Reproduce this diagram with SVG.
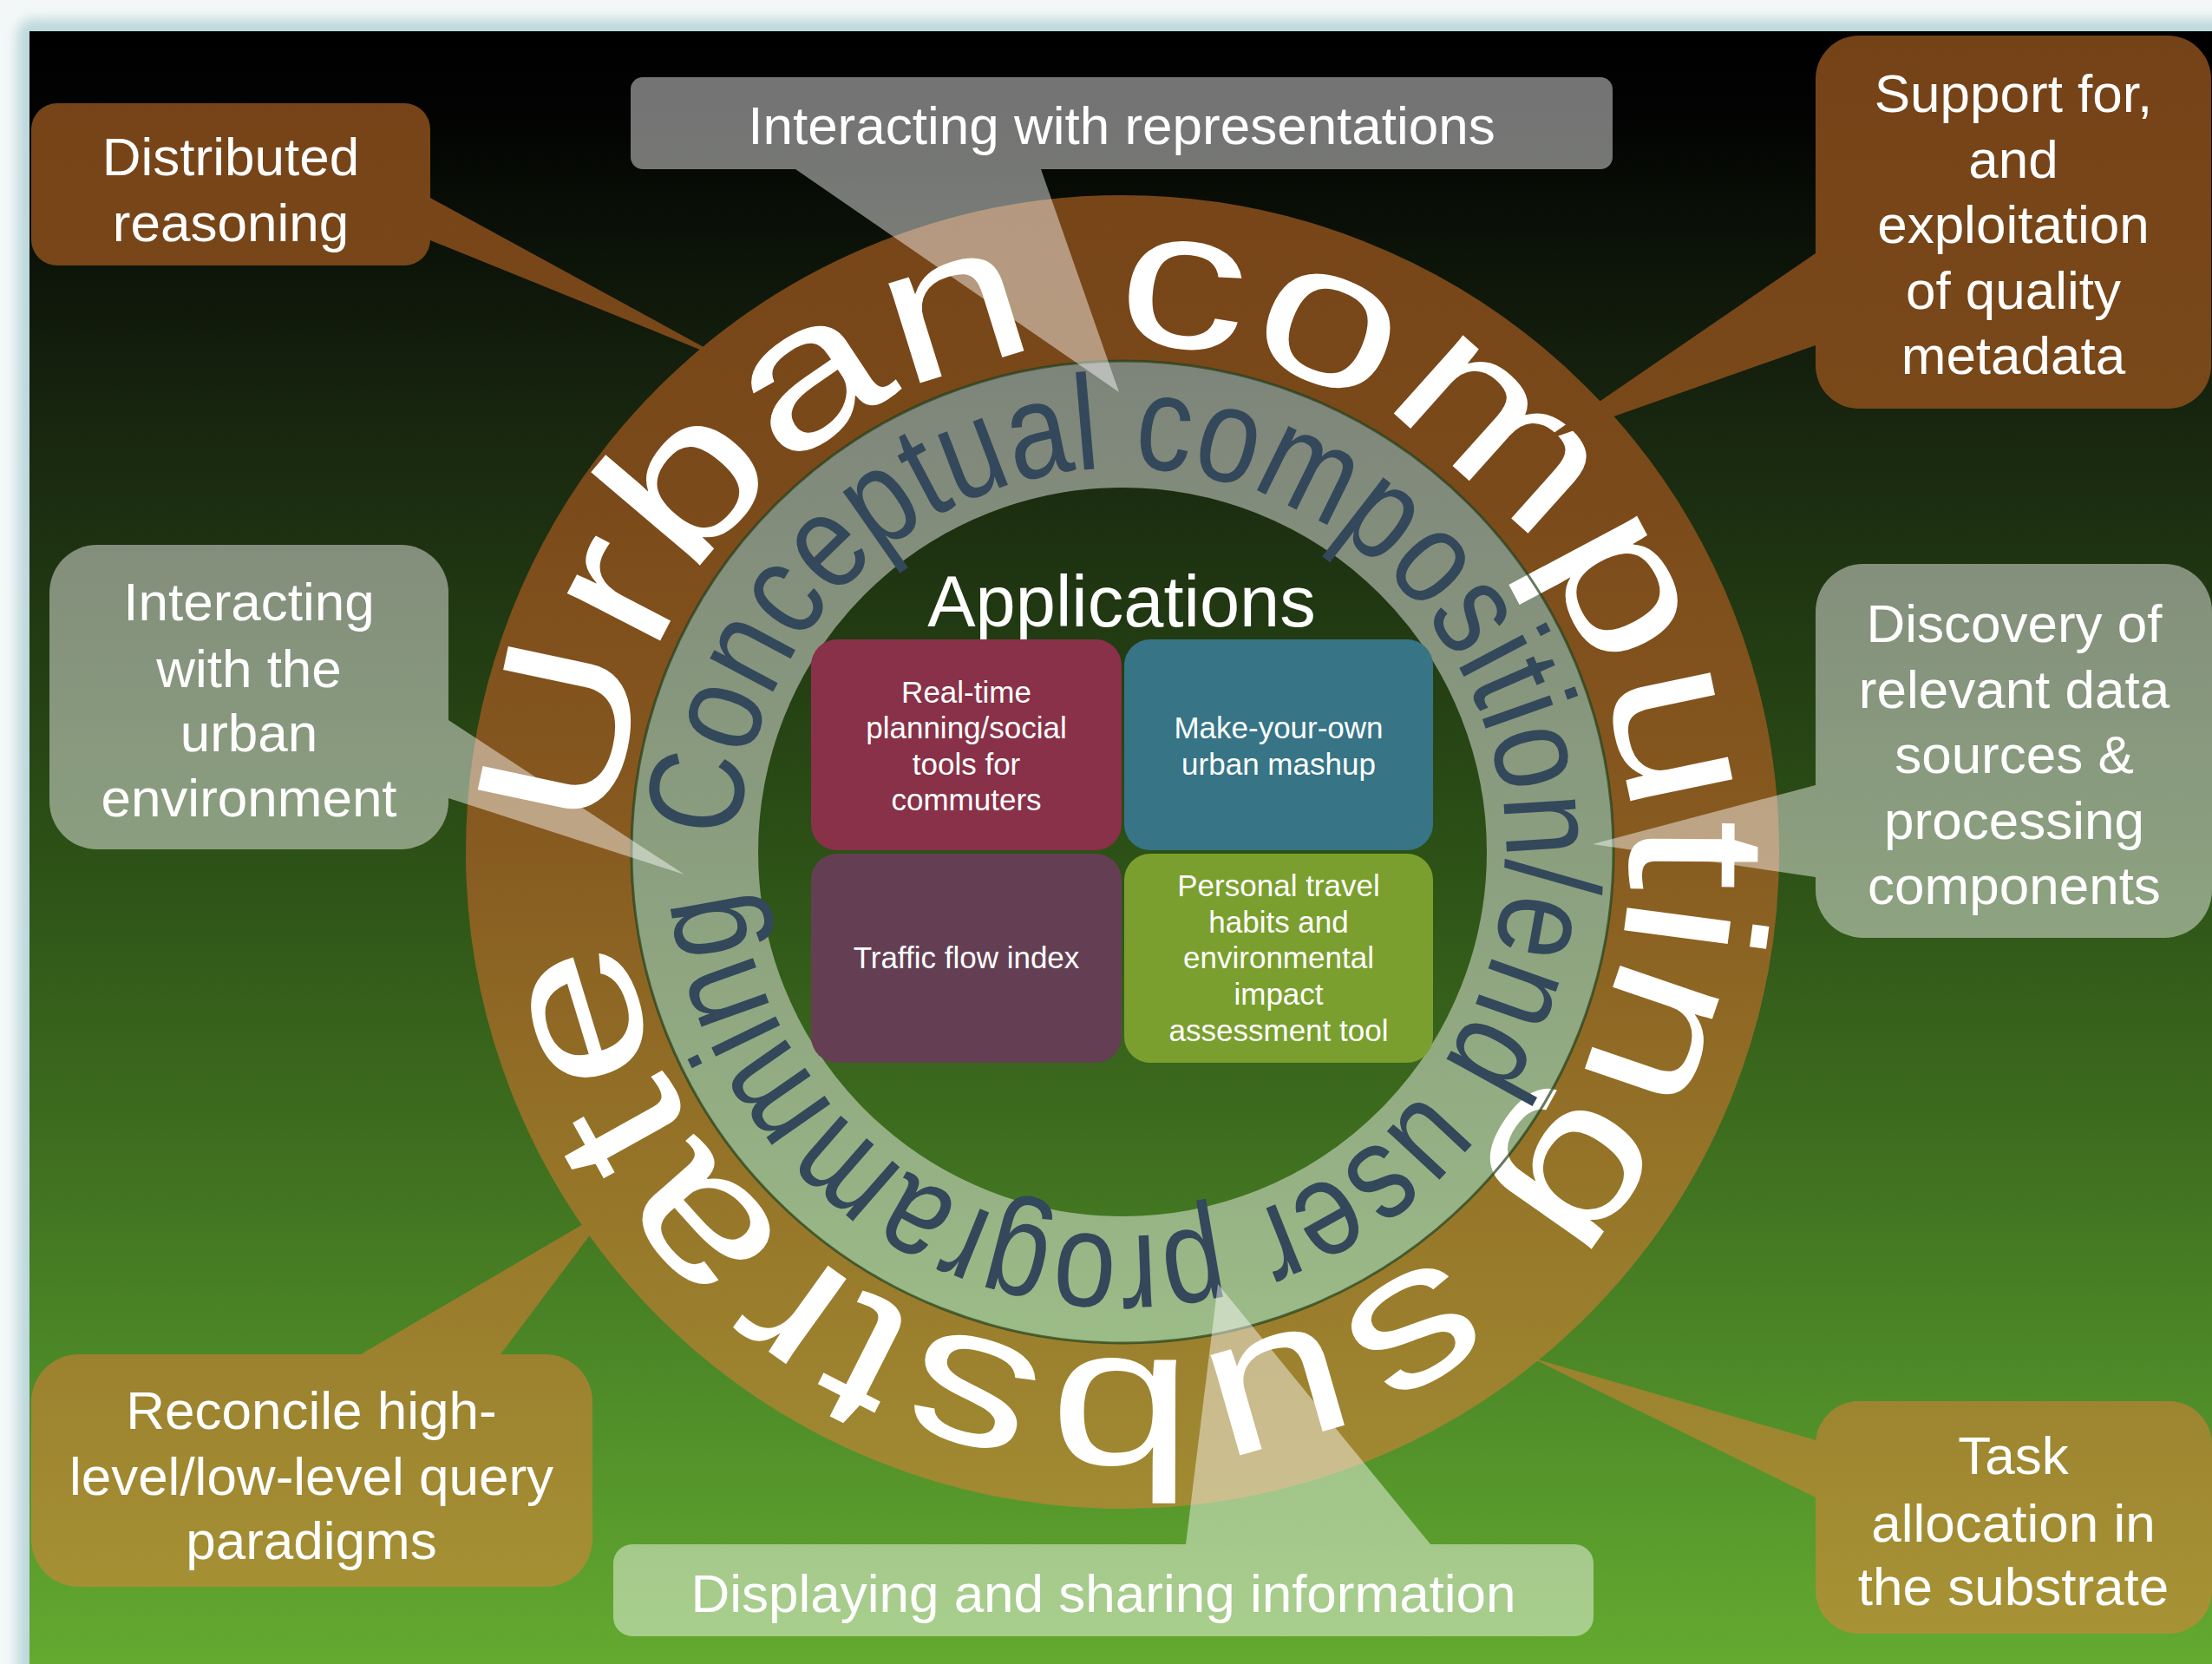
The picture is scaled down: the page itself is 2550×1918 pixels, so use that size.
<svg xmlns="http://www.w3.org/2000/svg" width="2550" height="1918" viewBox="0 0 2550 1918">
<defs>
  <linearGradient id="bg" gradientUnits="userSpaceOnUse" x1="0" y1="36" x2="0" y2="1918">
    <stop offset="0" stop-color="#000000"/>
    <stop offset="0.05" stop-color="#020302"/>
    <stop offset="0.24" stop-color="#18260f"/>
    <stop offset="0.5" stop-color="#2c5016"/>
    <stop offset="0.67" stop-color="#3d6c1e"/>
    <stop offset="0.845" stop-color="#508e29"/>
    <stop offset="1" stop-color="#64aa30"/>
  </linearGradient>
  <linearGradient id="brown" gradientUnits="userSpaceOnUse" x1="0" y1="0" x2="0" y2="1918">
    <stop offset="0" stop-color="#744217"/>
    <stop offset="0.3" stop-color="#7b4a1a"/>
    <stop offset="0.5" stop-color="#875a20"/>
    <stop offset="0.7" stop-color="#957428"/>
    <stop offset="0.85" stop-color="#9e8530"/>
    <stop offset="1" stop-color="#a89536"/>
  </linearGradient>
  <filter id="glow" x="-5%" y="-5%" width="110%" height="110%">
    <feGaussianBlur stdDeviation="7"/>
  </filter>
  <path id="outerPath" d="M709.20,966.69 A585,585 0 1 1 1878.80,997.31 A585,585 0 1 1 709.20,966.69"/>
  <path id="innerPath" d="M852.27,966.57 A442,442 0 1 1 1735.73,997.43 A442,442 0 1 1 852.27,966.57"/>
</defs>
<style>
  .ct { font-family: "Liberation Sans", Arial, sans-serif; font-size: 62px; fill: #ffffff; text-anchor: middle; }
  .at { font-family: "Liberation Sans", Arial, sans-serif; font-size: 35px; fill: #ffffff; text-anchor: middle; }
  .gray { fill: #ffffff; fill-opacity: 0.45; }
  .brown { fill: url(#brown); }
  .ringtext { font-family: "Liberation Sans", Arial, sans-serif; font-size: 228px; fill: #ffffff; }
  .innertext { font-family: "Liberation Sans", Arial, sans-serif; font-size: 156px; fill: #33485a; }
</style>

<!-- frame and background -->
<rect x="0" y="0" width="2550" height="1918" fill="#f4f7f7"/>
<rect x="20" y="22" width="2600" height="2000" rx="18" fill="#bcd8dc" filter="url(#glow)"/>
<rect x="34" y="36" width="2516" height="1882" fill="url(#bg)"/>

<!-- rings -->
<g id="ring-substrate">
  <circle cx="1294" cy="982" r="661.5" fill="none" stroke="url(#brown)" stroke-width="191"/>
  <text class="ringtext"><textPath href="#outerPath" startOffset="0" textLength="3570" lengthAdjust="spacingAndGlyphs">Urban computing substrate</textPath></text>
</g>
<g id="ring-composition">
  <circle cx="1294" cy="982" r="493" fill="none" stroke="#ffffff" stroke-opacity="0.45" stroke-width="146"/>
  <circle cx="1294" cy="982" r="566" fill="none" stroke="#24401a" stroke-opacity="0.7" stroke-width="3"/>
  <text class="innertext"><textPath href="#innerPath" startOffset="0" textLength="2721" lengthAdjust="spacingAndGlyphs">Conceptual composition/end user programming</textPath></text>
</g>

<!-- applications -->
<g id="applications">
  <text x="1293" y="722" font-family="Liberation Sans, Arial, sans-serif" font-size="83" fill="#ffffff" text-anchor="middle">Applications</text>
</g>
<g id="app-realtime">
  <rect x="935" y="737" width="358" height="243" rx="30" fill="#883148"/>
  <text class="at"><tspan x="1114" y="810">Real-time</tspan><tspan x="1114" y="851">planning/social</tspan><tspan x="1114" y="893">tools for</tspan><tspan x="1114" y="934">commuters</tspan></text>
</g>
<g id="app-mashup">
  <rect x="1296" y="737" width="356" height="243" rx="30" fill="#367486"/>
  <text class="at"><tspan x="1474" y="851">Make-your-own</tspan><tspan x="1474" y="893">urban mashup</tspan></text>
</g>
<g id="app-traffic">
  <rect x="935" y="984" width="358" height="241" rx="30" fill="#643f53"/>
  <text class="at" x="1114" y="1116">Traffic flow index</text>
</g>
<g id="app-travel">
  <rect x="1296" y="984" width="356" height="241" rx="30" fill="#7a9f2e"/>
  <text class="at"><tspan x="1474" y="1033">Personal travel</tspan><tspan x="1474" y="1075">habits and</tspan><tspan x="1474" y="1116">environmental</tspan><tspan x="1474" y="1158">impact</tspan><tspan x="1474" y="1200">assessment tool</tspan></text>
</g>

<!-- connectors (callout pointers) -->
<g id="connectors">
  <polygon class="brown" points="496,228 844,418 496,277"/>
  <polygon class="gray" points="917,195 1290,452 1200,195"/>
  <polygon class="brown" points="2093,292 1775,510 2093,398"/>
  <polygon class="gray" points="517,830 789,1008 517,920"/>
  <polygon class="gray" points="2093,905 1836,973 2093,1011"/>
  <polygon class="brown" points="416,1561 703,1393 577,1561"/>
  <polygon class="gray" points="1367,1780 1404,1480 1649,1780"/>
  <polygon class="brown" points="2093,1660 1765,1565 2093,1726"/>
</g>

<!-- callouts -->
<g id="callout-distributed">
  <rect class="brown" x="36" y="119" width="460" height="187" rx="30"/>
  <text class="ct"><tspan x="266" y="202">Distributed</tspan><tspan x="266" y="278">reasoning</tspan></text>
</g>
<g id="callout-representations">
  <rect class="gray" x="727" y="89" width="1132" height="106" rx="14"/>
  <text class="ct" x="1293" y="166">Interacting with representations</text>
</g>
<g id="callout-metadata">
  <rect class="brown" x="2093" y="41" width="456" height="430" rx="50"/>
  <text class="ct"><tspan x="2321" y="129">Support for,</tspan><tspan x="2321" y="205">and</tspan><tspan x="2321" y="280">exploitation</tspan><tspan x="2321" y="356">of quality</tspan><tspan x="2321" y="431">metadata</tspan></text>
</g>
<g id="callout-urban-environment">
  <rect class="gray" x="57" y="628" width="460" height="351" rx="55"/>
  <text class="ct"><tspan x="287" y="715">Interacting</tspan><tspan x="287" y="792">with the</tspan><tspan x="287" y="866">urban</tspan><tspan x="287" y="941">environment</tspan></text>
</g>
<g id="callout-discovery">
  <rect class="gray" x="2093" y="650" width="457" height="431" rx="55"/>
  <text class="ct"><tspan x="2322" y="740">Discovery of</tspan><tspan x="2322" y="816">relevant data</tspan><tspan x="2322" y="891">sources &amp;</tspan><tspan x="2322" y="967">processing</tspan><tspan x="2322" y="1042">components</tspan></text>
</g>
<g id="callout-reconcile">
  <rect class="brown" x="36" y="1561" width="647" height="268" rx="55"/>
  <text class="ct"><tspan x="359" y="1647">Reconcile high-</tspan><tspan x="359" y="1723">level/low-level query</tspan><tspan x="359" y="1797">paradigms</tspan></text>
</g>
<g id="callout-displaying">
  <rect class="gray" x="707" y="1780" width="1130" height="106" rx="22"/>
  <text class="ct" x="1272" y="1858">Displaying and sharing information</text>
</g>
<g id="callout-task">
  <rect class="brown" x="2093" y="1615" width="457" height="268" rx="50"/>
  <text class="ct"><tspan x="2321" y="1699">Task</tspan><tspan x="2321" y="1777">allocation in</tspan><tspan x="2321" y="1850">the substrate</tspan></text>
</g>
</svg>
